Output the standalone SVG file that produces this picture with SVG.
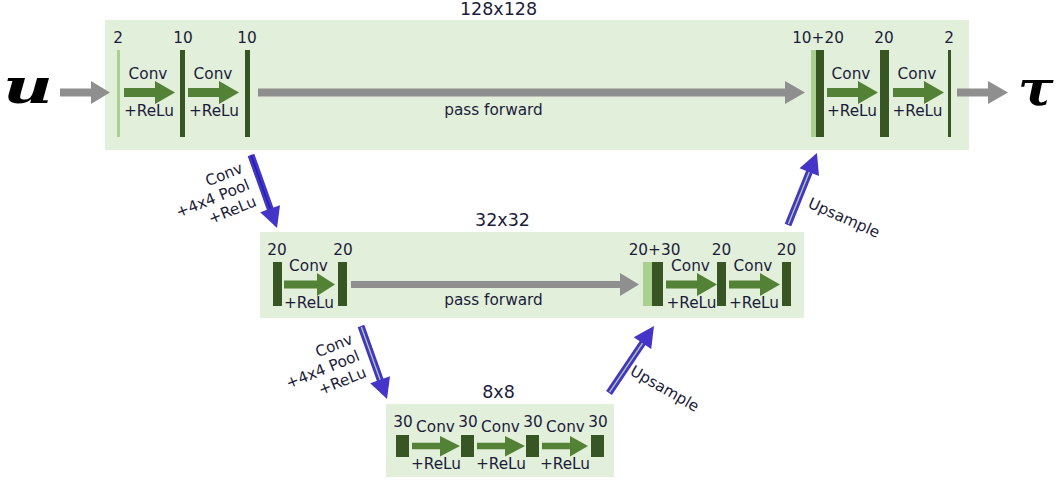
<svg xmlns="http://www.w3.org/2000/svg" width="1056" height="481" viewBox="0 0 1056 481">
<style>
.box{fill:#e2efda}
.t{font-family:"DejaVu Sans",Verdana,sans-serif;font-size:15.3px;fill:#1c1c3a;text-anchor:middle}
.ttl{font-family:"DejaVu Sans",Verdana,sans-serif;font-size:17.5px;fill:#1c1c3a;text-anchor:middle}
.rl{font-family:"DejaVu Sans",Verdana,sans-serif;font-size:15.3px;fill:#1c1c3a;text-anchor:end}
.ul{font-family:"DejaVu Sans",Verdana,sans-serif;font-size:15.3px;fill:#1c1c3a}
.dk{fill:#375623}
.lt{fill:#a9d08e}
.ga{fill:#538135}
.gr{fill:#8f8f8f}
.sh{stroke:#4434c8;stroke-width:7;fill:none}
.inL{stroke:#a9d08e;stroke-width:1.4;fill:none}
.inD{stroke:#1f1fa0;stroke-width:1.4;fill:none}
.hd{fill:#4434c8}
.math{font-family:"DejaVu Serif","Liberation Serif",serif;font-weight:bold;font-style:italic;fill:#000}
</style>

<g id="level128">
<rect class="box" x="105" y="20" width="864" height="130"/>
<text class="ttl" x="498.5" y="15">128x128</text>
<rect class="lt" x="117" y="50" width="3" height="87"/>
<rect class="dk" x="180" y="50" width="5" height="87"/>
<rect class="dk" x="245" y="50" width="5" height="87"/>
<rect class="lt" x="811" y="50" width="5" height="87"/>
<rect class="dk" x="816" y="50" width="8" height="87"/>
<rect class="dk" x="880" y="50" width="9" height="87"/>
<rect class="dk" x="948" y="50" width="3" height="87"/>
<text class="t" x="118" y="43">2</text>
<text class="t" x="183" y="43">10</text>
<text class="t" x="247" y="43">10</text>
<text class="t" x="818" y="43">10+20</text>
<text class="t" x="884" y="43">20</text>
<text class="t" x="949" y="43">2</text>
<polygon class="ga" points="124,88 155,88 155,81 175,92.5 155,104 155,97 124,97"/>
<polygon class="ga" points="188,88 219,88 219,81 239,92.5 219,104 219,97 188,97"/>
<polygon class="ga" points="827,88 858,88 858,81 878,92.5 858,104 858,97 827,97"/>
<polygon class="ga" points="893,88 924,88 924,81 944,92.5 924,104 924,97 893,97"/>
<text class="t" x="148" y="79">Conv</text>
<text class="t" x="149" y="115.5">+ReLu</text>
<text class="t" x="213" y="79">Conv</text>
<text class="t" x="214" y="115.5">+ReLu</text>
<text class="t" x="851" y="79">Conv</text>
<text class="t" x="852" y="115.5">+ReLu</text>
<text class="t" x="917" y="79">Conv</text>
<text class="t" x="917.5" y="115.5">+ReLu</text>
<text class="t" x="493.5" y="115">pass forward</text>
</g>

<g id="level32">
<rect class="box" x="260" y="232" width="544" height="86"/>
<text class="ttl" x="502.5" y="226">32x32</text>
<rect class="dk" x="273" y="262" width="9" height="44"/>
<rect class="dk" x="338" y="262" width="9" height="44"/>
<rect class="lt" x="643" y="262" width="9" height="44"/>
<rect class="dk" x="652" y="262" width="11" height="44"/>
<rect class="dk" x="717" y="262" width="9" height="44"/>
<rect class="dk" x="782" y="262" width="9" height="44"/>
<text class="t" x="277" y="255">20</text>
<text class="t" x="343" y="255">20</text>
<text class="t" x="654.5" y="255">20+30</text>
<text class="t" x="721.5" y="255">20</text>
<text class="t" x="786.5" y="255">20</text>
<polygon class="ga" points="284,280.5 317,280.5 317,273 335,284.5 317,296 317,288.5 284,288.5"/>
<polygon class="ga" points="666,280.5 697,280.5 697,273 717,284.5 697,296 697,288.5 666,288.5"/>
<polygon class="ga" points="729,280.5 760,280.5 760,273 780,284.5 760,296 760,288.5 729,288.5"/>
<text class="t" x="308.5" y="271">Conv</text>
<text class="t" x="309" y="308">+ReLu</text>
<text class="t" x="690.5" y="271">Conv</text>
<text class="t" x="691.5" y="308">+ReLu</text>
<text class="t" x="753" y="271">Conv</text>
<text class="t" x="754" y="308">+ReLu</text>
<text class="t" x="493.5" y="305">pass forward</text>
</g>

<g id="level8">
<rect class="box" x="386" y="404" width="228" height="73"/>
<text class="ttl" x="498.5" y="398">8x8</text>
<rect class="dk" x="396" y="435" width="13" height="22"/>
<rect class="dk" x="461" y="435" width="13" height="22"/>
<rect class="dk" x="526" y="435" width="13" height="22"/>
<rect class="dk" x="591" y="435" width="13" height="22"/>
<text class="t" x="403" y="427">30</text>
<text class="t" x="468" y="427">30</text>
<text class="t" x="533" y="427">30</text>
<text class="t" x="598" y="427">30</text>
<polygon class="ga" points="412,442.7 440,442.7 440,436 460,446 440,456.5 440,449.3 412,449.3"/>
<polygon class="ga" points="477,442.7 505,442.7 505,436 525,446 505,456.5 505,449.3 477,449.3"/>
<polygon class="ga" points="542,442.7 570,442.7 570,436 588,446 570,456.5 570,449.3 542,449.3"/>
<text class="t" x="435.5" y="431.5">Conv</text>
<text class="t" x="436" y="469">+ReLu</text>
<text class="t" x="500.5" y="431.5">Conv</text>
<text class="t" x="501" y="469">+ReLu</text>
<text class="t" x="565.5" y="431.5">Conv</text>
<text class="t" x="565" y="469">+ReLu</text>
</g>

<g id="input">
<text class="math" font-size="49" transform="translate(3,103) scale(1.4,1)">u</text>
</g>
<g id="output">
<text class="math" font-size="48" transform="translate(1018,105) scale(1.1,1)">τ</text>
</g>

<g id="connectors">
<polygon class="gr" points="60,88.5 91,88.5 91,81 110,92.5 91,104 91,96.5 60,96.5"/>
<polygon class="gr" points="258,88.5 785,88.5 785,81 805,92.5 785,104 785,96.5 258,96.5"/>
<polygon class="gr" points="957,88.5 988,88.5 988,81 1008,92.5 988,104 988,96.5 957,96.5"/>
<polygon class="gr" points="351,281 620,281 620,273 639,284.5 620,296 620,288 351,288"/>

<g transform="translate(251,155) rotate(70.4)">
<line class="sh" x1="0" y1="0" x2="58" y2="0"/>
<line class="inD" x1="0" y1="0" x2="58" y2="0"/>
<polygon class="hd" points="57,-10.5 77.5,0 57,10.5"/>
</g>
<g transform="translate(361,326) rotate(70.4)">
<line class="sh" x1="0" y1="0" x2="58" y2="0"/>
<line class="inL" x1="1" y1="0" x2="58" y2="0"/>
<polygon class="hd" points="57,-10.5 77.5,0 57,10.5"/>
</g>
<g transform="translate(609,393) rotate(-56.1)">
<line class="sh" x1="0" y1="0" x2="61" y2="0"/>
<line class="inL" x1="1" y1="0" x2="61" y2="0"/>
<polygon class="hd" points="60,-10.5 80.7,0 60,10.5"/>
</g>
<g transform="translate(788,225) rotate(-68.1)">
<line class="sh" x1="0" y1="0" x2="58" y2="0"/>
<line class="inL" x1="1" y1="0" x2="58" y2="0"/>
<polygon class="hd" points="57,-10.5 77.6,0 57,10.5"/>
</g>

<g transform="translate(244,172) rotate(-22)">
<text class="rl" x="0" y="0">Conv</text>
<text class="rl" x="0" y="18">+4x4 Pool</text>
<text class="rl" x="0" y="36">+ReLu</text>
</g>
<g transform="translate(354,343) rotate(-22)">
<text class="rl" x="0" y="0">Conv</text>
<text class="rl" x="0" y="18">+4x4 Pool</text>
<text class="rl" x="0" y="36">+ReLu</text>
</g>
<text class="ul" transform="translate(807,207) rotate(24)">Upsample</text>
<text class="ul" transform="translate(629,374) rotate(30)">Upsample</text>
</g>
</svg>
